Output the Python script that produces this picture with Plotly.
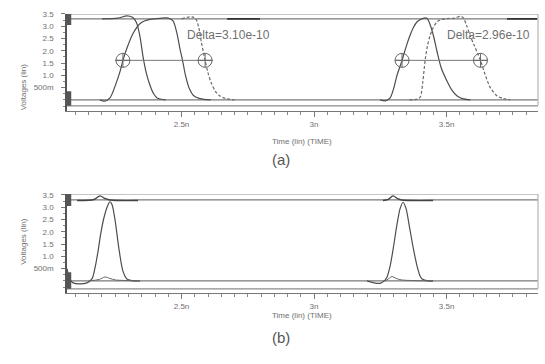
import plotly.graph_objects as go

W, H = 545, 364

# ---------------- axes / labels ----------------
T_RANGE = [2.068, 3.845]                 # ns
x_tick_vals = [2.5, 3.0, 3.5]
x_tick_text = ["2.5n", "3n", "3.5n"]
y_tick_vals = [0.5, 1.0, 1.5, 2.0, 2.5, 3.0, 3.5]
y_tick_text = ["500m", "1.0", "1.5", "2.0", "2.5", "3.0", "3.5"]
y_range_a = [-0.443, 3.50]
y_range_b = [-0.483, 3.54]
rails_a = [3.50, 3.30, 0.0, -0.24]       # frame top, Vdd, Gnd, frame bottom
rails_b = [3.54, 3.30, 0.0, -0.32]

# ---------------- panel (a) waveforms ----------------
a_in_t = [2.192, 2.210, 2.230, 2.249, 2.268, 2.279, 2.294, 2.317, 2.343, 2.362, 2.381,
          2.419, 2.450, 2.468, 2.483, 2.494, 2.505, 2.515, 2.530, 2.545, 2.570, 2.610]
a_in_v = [0.00, -0.05, 0.08, 0.55, 1.15, 1.61, 2.10, 2.70, 3.10, 3.22, 3.28,
          3.32, 3.33, 3.22, 2.70, 2.09, 1.55, 1.00, 0.45, 0.18, 0.05, 0.00]

a_fast_t = [2.200, 2.260, 2.294, 2.315, 2.330, 2.343, 2.355, 2.367, 2.381, 2.395, 2.408, 2.440]
a_fast_v = [3.30, 3.33, 3.42, 3.36, 3.15, 2.60, 1.75, 1.10, 0.60, 0.25, 0.08, 0.00]

a_slow_t = [2.500, 2.540, 2.555, 2.565, 2.575, 2.589, 2.600, 2.612, 2.628, 2.645, 2.665, 2.700]
a_slow_v = [3.30, 3.38, 3.28, 2.95, 2.35, 1.61, 1.10, 0.70, 0.35, 0.16, 0.06, 0.00]

a_in2_t = [3.249, 3.270, 3.287, 3.300, 3.313, 3.332, 3.347, 3.362, 3.375, 3.389, 3.400,
           3.411, 3.426, 3.440, 3.452, 3.464, 3.480, 3.502, 3.520, 3.540, 3.560, 3.590]
a_in2_v = [0.00, -0.04, 0.08, 0.45, 1.00, 1.61, 2.15, 2.62, 2.95, 3.18, 3.26,
           3.32, 3.32, 3.00, 2.55, 1.97, 1.30, 0.76, 0.40, 0.16, 0.05, 0.00]

a_dash2_t = [3.360, 3.385, 3.400, 3.410, 3.419, 3.428, 3.438, 3.450, 3.464, 3.480, 3.502, 3.530,
             3.551, 3.562, 3.575, 3.589, 3.605, 3.617, 3.628, 3.645, 3.665, 3.691, 3.713, 3.740]
a_dash2_v = [0.00, 0.02, 0.10, 0.70, 1.60, 2.20, 2.62, 2.95, 3.18, 3.27, 3.31, 3.33,
             3.40, 3.36, 3.05, 2.62, 2.20, 1.90, 1.61, 1.05, 0.50, 0.16, 0.06, 0.00]

a_hold_t = [2.672, 2.796, None, 3.728, 3.842]
a_hold_v = [3.30, 3.30, None, 3.30, 3.30]

# measurement cursors (a)
meas1_t = [2.279, 2.589]
meas1_line_t = [2.249, 2.619]
meas2_t = [3.332, 3.628]
meas2_line_t = [3.306, 3.657]
meas_level = 1.61
delta_labels = ["Delta=3.10e-10", "Delta=2.96e-10"]
delta_label_t = [2.513, 3.494]
delta_label_v = 2.66

# ---------------- panel (b) waveforms ----------------
b_p1_t = [2.068, 2.080, 2.091, 2.115, 2.143, 2.162, 2.174, 2.185, 2.195, 2.208, 2.223,
          2.230, 2.238, 2.249, 2.264, 2.279, 2.294, 2.325, 2.343]
b_p1_v = [0.50, 0.05, -0.08, -0.12, -0.08, 0.08, 0.55, 1.20, 1.90, 2.60, 3.10,
          3.22, 3.10, 2.50, 1.30, 0.40, 0.08, 0.00, 0.00]
b_bump1_t = [2.150, 2.190, 2.211, 2.230, 2.250, 2.280, 2.343]
b_bump1_v = [0.00, 0.06, 0.16, 0.10, 0.04, 0.02, 0.00]
b_top1_t = [2.106, 2.170, 2.192, 2.210, 2.230, 2.336]
b_top1_v = [3.27, 3.31, 3.46, 3.36, 3.29, 3.27]

b_p2_t = [3.200, 3.220, 3.249, 3.265, 3.275, 3.287, 3.300, 3.313, 3.325, 3.336, 3.347,
          3.360, 3.375, 3.390, 3.400, 3.408, 3.430, 3.449]
b_p2_v = [0.00, -0.06, -0.10, 0.00, 0.15, 0.60, 1.40, 2.30, 2.95, 3.20, 2.95,
          2.20, 1.30, 0.55, 0.20, 0.08, 0.00, 0.00]
b_bump2_t = [3.270, 3.285, 3.294, 3.310, 3.330, 3.449]
b_bump2_v = [0.00, 0.12, 0.18, 0.10, 0.04, 0.00]
b_top2_t = [3.260, 3.280, 3.298, 3.315, 3.330, 3.449]
b_top2_v = [3.27, 3.32, 3.46, 3.35, 3.29, 3.27]

# ---------------- styling ----------------
FONT = "Liberation Sans"
SIG = "#4d4d4d"
DASH = "#6a6a6a"
RAIL = "#7a7a7a"
TXT = "#6f6f6f"

fig = go.Figure()


def sig(t, v, xa, ya, dashed=False, color=SIG, width=1.2):
    fig.add_trace(go.Scatter(
        x=t, y=v, xaxis=xa, yaxis=ya, mode="lines", showlegend=False,
        hoverinfo="skip", connectgaps=False,
        line=dict(color=DASH if dashed else color, width=width,
                  dash="3px,2px" if dashed else "solid",
                  shape="spline", smoothing=0.8)))


# panel (a)
sig(a_in_t, a_in_v, "x", "y")
sig(a_fast_t, a_fast_v, "x", "y")
sig(a_slow_t, a_slow_v, "x", "y", dashed=True)
sig(a_in2_t, a_in2_v, "x", "y")
sig(a_dash2_t, a_dash2_v, "x", "y", dashed=True)
fig.add_trace(go.Scatter(x=a_hold_t, y=a_hold_v, xaxis="x", yaxis="y", mode="lines",
                         showlegend=False, hoverinfo="skip",
                         line=dict(color="#333", width=1.8)))

for lt, mt in ((meas1_line_t, meas1_t), (meas2_line_t, meas2_t)):
    fig.add_trace(go.Scatter(x=lt, y=[meas_level] * len(lt), xaxis="x", yaxis="y",
                             mode="lines", showlegend=False, hoverinfo="skip",
                             line=dict(color="#777", width=1)))
    fig.add_trace(go.Scatter(x=mt, y=[meas_level] * len(mt), xaxis="x", yaxis="y",
                             mode="markers", showlegend=False, hoverinfo="skip",
                             marker=dict(symbol="circle-cross-open", size=14,
                                         color="#666", line=dict(width=1, color="#666"))))

for txt, tx in zip(delta_labels, delta_label_t):
    fig.add_annotation(x=tx, y=delta_label_v, xref="x", yref="y", text=txt,
                       showarrow=False, xanchor="left", yanchor="middle",
                       font=dict(family=FONT, size=12, color=TXT))

# panel (b)
sig(b_p1_t, b_p1_v, "x2", "y2")
sig(b_bump1_t, b_bump1_v, "x2", "y2", color="#666", width=1)
sig(b_top1_t, b_top1_v, "x2", "y2", color="#444", width=1.4)
sig(b_p2_t, b_p2_v, "x2", "y2")
sig(b_bump2_t, b_bump2_v, "x2", "y2", color="#666", width=1)
sig(b_top2_t, b_top2_v, "x2", "y2", color="#444", width=1.4)

# frame / rail lines
shapes = []
for xr, yr, rails in (("x", "y", rails_a), ("x2", "y2", rails_b)):
    for i, lv in enumerate(rails):
        shapes.append(dict(type="line", xref=f"{xr} domain", yref=yr, x0=0, x1=1,
                           y0=lv, y1=lv, layer="below",
                           line=dict(color=RAIL if i in (1, 2) else "#8c8c8c", width=1.3)))
    shapes.append(dict(type="line", xref=f"{xr} domain", yref=yr, x0=1, x1=1,
                       y0=rails[-1], y1=rails[0], line=dict(color="#b5b5b5", width=1.2)))
    # dark caps on the left axis near the rails
    shapes.append(dict(type="rect", xref=f"{xr} domain", yref=yr, x0=0, x1=0.009,
                       y0=rails[1] - 0.25, y1=rails[0], line=dict(width=0),
                       fillcolor="#555"))
    shapes.append(dict(type="rect", xref=f"{xr} domain", yref=yr, x0=0, x1=0.009,
                       y0=rails[3], y1=rails[2] + 0.35, line=dict(width=0),
                       fillcolor="#555"))

x_dom = [67 / W, 538 / W]
ya_dom = [1 - 108 / H, 1 - 10 / H]
yb_dom = [1 - 292 / H, 1 - 192 / H]


def xaxis(anchor):
    return dict(domain=x_dom, anchor=anchor, range=T_RANGE, tickmode="array",
                tickvals=x_tick_vals, ticktext=x_tick_text, showgrid=False,
                zeroline=False, showline=True, linecolor="#777", linewidth=1,
                ticks="outside", ticklen=5, tickcolor="#777", tickwidth=1,
                ticklabelstandoff=1,
                tickfont=dict(family=FONT, size=8, color=TXT),
                minor=dict(tickmode="linear", tick0=0, dtick=0.05, ticks="outside",
                           ticklen=3, tickcolor="#888", showgrid=False))


def yaxis(anchor, dom, rng):
    return dict(domain=dom, anchor=anchor, range=rng, tickmode="array",
                tickvals=y_tick_vals, ticktext=y_tick_text, showgrid=False,
                zeroline=False, showline=True, linecolor="#555", linewidth=1.5,
                ticks="outside", ticklen=4, tickcolor="#777", tickwidth=1,
                ticklabelstandoff=6,
                tickfont=dict(family=FONT, size=8, color=TXT),
                minor=dict(tickmode="linear", tick0=0, dtick=0.25, ticks="outside",
                           ticklen=2, tickcolor="#888", showgrid=False))


fig.update_layout(
    width=W, height=H, autosize=False,
    margin=dict(l=0, r=0, t=0, b=0),
    paper_bgcolor="white", plot_bgcolor="white",
    xaxis=xaxis("y"), yaxis=yaxis("x", ya_dom, y_range_a),
    xaxis2=xaxis("y2"), yaxis2=yaxis("x2", yb_dom, y_range_b),
    shapes=shapes, showlegend=False,
)

# axis titles and panel captions
for yc in (58, 240):
    fig.add_annotation(x=17 / W, y=1 - yc / H, xref="paper", yref="paper",
                       text="Voltages (lin)", textangle=-90, showarrow=False,
                       font=dict(family=FONT, size=8, color=TXT))
for yc in (139, 322):
    fig.add_annotation(x=302 / W, y=1 - yc / H, xref="paper", yref="paper",
                       text="Time (lin) (TIME)", showarrow=False,
                       font=dict(family=FONT, size=8, color=TXT))
for cap, yc in (("(a)", 157), ("(b)", 348)):
    fig.add_annotation(x=281 / W, y=1 - yc / H, xref="paper", yref="paper",
                       text=cap, showarrow=False,
                       font=dict(family=FONT, size=15, color="#555"))

fig.write_html("out.html", config={"displayModeBar": False},
               post_script="document.body.style.margin='0';document.body.style.overflow='hidden';")
